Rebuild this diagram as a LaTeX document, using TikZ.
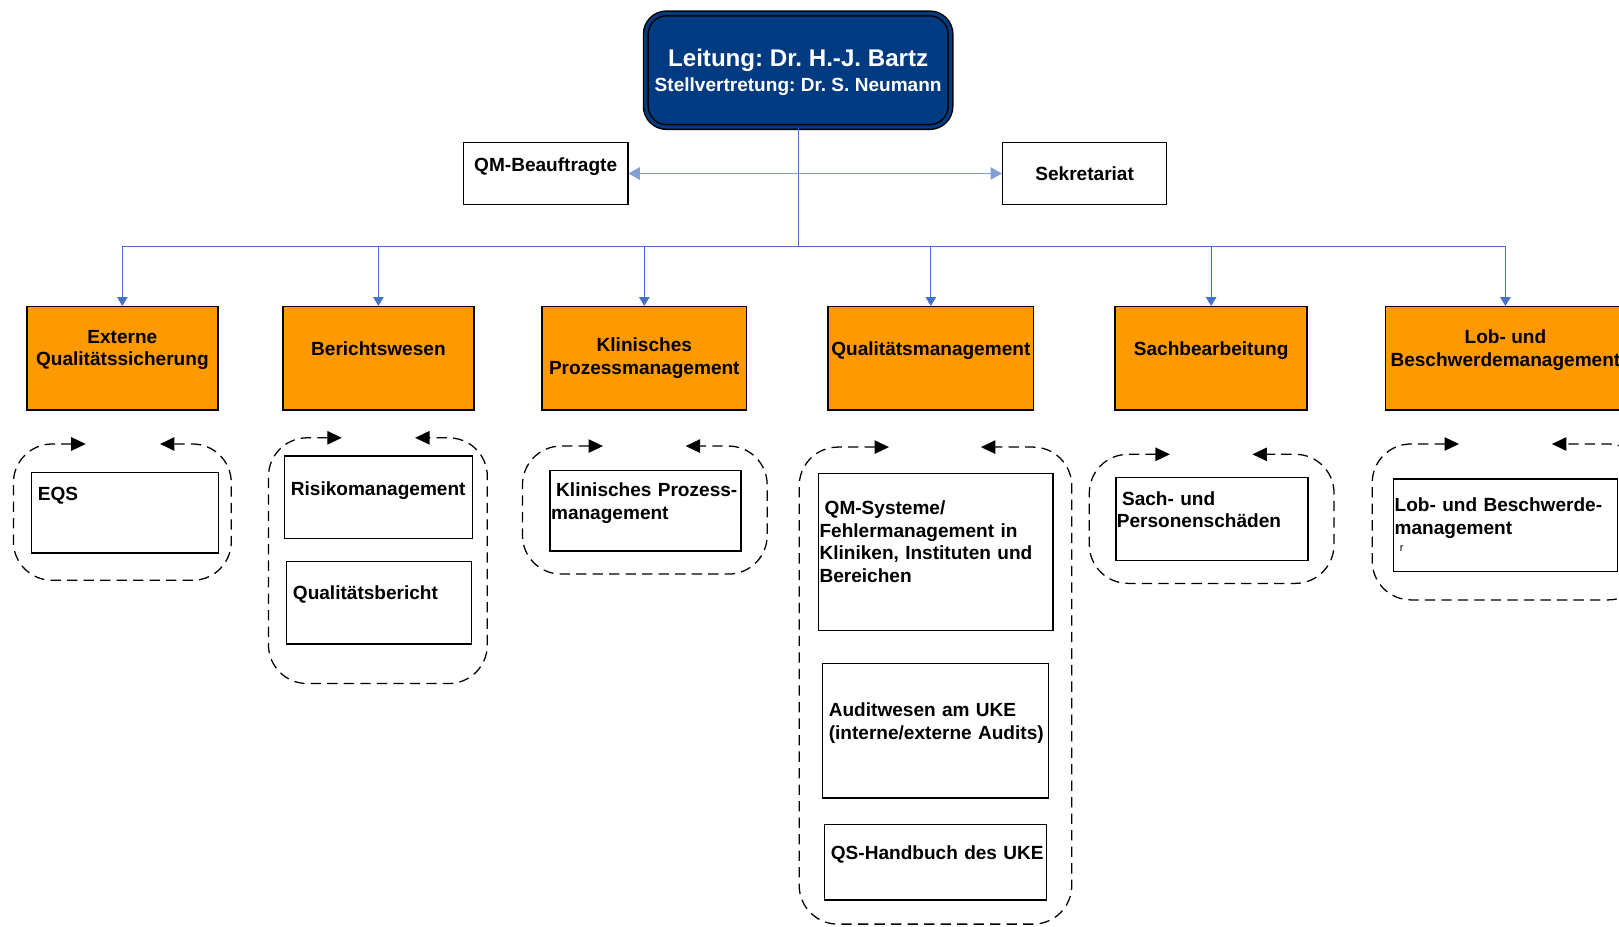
\documentclass[tikz,border=0pt]{standalone}
\usepackage{fontspec}
\setmainfont{Liberation Sans}
\usetikzlibrary{arrows.meta}
\frenchspacing

\definecolor{kopfblau}{RGB}{0,58,128}
\definecolor{abtorange}{RGB}{255,153,0}
\definecolor{busblau}{RGB}{68,114,196}
\definecolor{stabblau}{RGB}{127,159,214}

\newcommand{\schrift}{\bfseries\fontsize{10.5}{12.5}\selectfont}

\tikzset{
  kopf/.style={draw=black, line width=0.8pt, double=kopfblau, double distance=1.8pt, fill=kopfblau, rounded corners=0.4cm, text=white, align=center, minimum width=5.9cm, minimum height=2.2cm, font=\bfseries\fontsize{13.3}{14.5}\selectfont},
  stab/.style={draw, line width=0.8pt, minimum width=3.18cm, minimum height=1.2cm, font=\schrift},
  abteilung/.style={draw, line width=0.8pt, fill=abtorange, align=center, minimum height=2cm, inner xsep=0.04cm, font=\schrift},
  bereich/.style={draw, line width=0.8pt, anchor=north west, align=left, inner xsep=0.02cm, inner ysep=0pt, font=\schrift},
  bus/.style={draw=busblau, line width=0.6pt},
  buspfeil/.style={bus, -{Triangle[length=0.17cm,width=0.2cm]}},
  stabpfeil/.style={draw=stabblau, line width=0.9pt, {Triangle[length=0.22cm,width=0.24cm]}-{Triangle[length=0.22cm,width=0.24cm]}},
  kreislauf/.style={draw, line width=0.7pt, dash pattern=on 0.2cm off 0.12cm, rounded corners=0.75cm, {Triangle[length=0.28cm,width=0.26cm]}-{Triangle[length=0.28cm,width=0.26cm]}},
}

\begin{document}
\begin{tikzpicture}[x=0.2mm,y=-0.2mm]
\useasboundingbox (0,0) rectangle (1568,897);

\node[kopf, text depth=0cm] (leitung) at (773,68) {Leitung: Dr. H.-J. Bartz\\[-0.8pt]{\fontsize{10.5}{12.5}\selectfont Stellvertretung: Dr. S. Neumann}};
\node[stab, text depth=0.36cm] (qmb) at (528.5,168) {QM-Beauftragte};
\node[stab] (sekr) at (1050.5,168) {Sekretariat};

\node[abteilung, minimum width=3.7cm, text depth=0.4cm] (ext) at (118.5,347) {Externe\\Qualitätssicherung};
\node[abteilung, minimum width=3.7cm, text depth=0.36cm] (ber) at (366.5,347) {Berichtswesen};
\node[abteilung, minimum width=3.96cm] (kpm) at (624,347) {Klinisches\\Prozessmanagement};
\node[abteilung, minimum width=3.98cm, text depth=0.36cm] (qm) at (901.5,347) {Qualitätsmanagement};
\node[abteilung, minimum width=3.72cm, text depth=0.36cm] (sach) at (1173,347) {Sachbearbeitung};
\node[abteilung, minimum width=4.64cm, text depth=0.4cm] (lob) at (1458,347) {Lob- und\\Beschwerdemanagement};

\node[bereich, text width=3.58cm, text height=0.55cm, text depth=1.01cm] (eqs) at (30,457) {\hspace*{0.1cm}EQS};
\node[bereich, text width=3.60cm, text height=0.77cm, text depth=0.83cm] (risiko) at (275,441) {\hspace*{0.1cm}Risikomanagement};
\node[bereich, text width=3.54cm, text height=0.73cm, text depth=0.87cm] (qber) at (277,543) {\hspace*{0.1cm}Qualitätsbericht};
\node[bereich, text width=3.66cm, text height=0.51cm, text depth=1.05cm] (kpmsub) at (532,455) {\hspace*{0.1cm}Klinisches Prozess-\\management};
\node[bereich, text width=4.50cm, text height=0.79cm, text depth=2.25cm] (qmsys) at (792,458) {\hspace*{0.1cm}QM-Systeme/\\Fehlermanagement in\\Kliniken, Instituten und\\Bereichen};
\node[bereich, text width=4.34cm, text height=1.03cm, text depth=1.57cm] (audit) at (796,642) {\hspace*{0.1cm}Auditwesen am UKE\\\hspace*{0.1cm}(interne/externe Audits)};
\node[bereich, text width=4.26cm, text height=0.67cm, text depth=0.79cm] (qshb) at (798,798) {\hspace*{0.1cm}QS-Handbuch des UKE};
\node[bereich, text width=3.68cm, text height=0.53cm, text depth=1.07cm] (sachsub) at (1080,462) {\hspace*{0.1cm}Sach- und\\Personenschäden};
\node[bereich, text width=4.30cm, text height=0.63cm, text depth=1.17cm] (lobsub) at (1349,463) {Lob- und Beschwerde-\\management\\[-2.8pt]\hspace*{0.1cm}{\mdseries\fontsize{6}{7}\selectfont r}};

\coordinate (hub) at (773,239);
\draw[bus] (leitung.south) -- (hub);
\draw[stabpfeil] (qmb.east) -- (sekr.west);
\draw[buspfeil] (hub) -| (ext.north);
\draw[buspfeil] (hub) -| (ber.north);
\draw[buspfeil] (hub) -| (kpm.north);
\draw[buspfeil] (hub) -| (qm.north);
\draw[buspfeil] (hub) -| (sach.north);
\draw[buspfeil] (hub) -| (lob.north);

\draw[kreislauf] (83,430) -- (13,430) -- (13,562) -- (224,562) -- (224,430) -- (155,430);
\draw[kreislauf] (331,424) -- (260,424) -- (260,662) -- (472,662) -- (472,424) -- (402,424);
\draw[kreislauf] (584,432) -- (506,432) -- (506,556) -- (743,556) -- (743,432) -- (664,432);
\draw[kreislauf] (861,433) -- (774,433) -- (774,895) -- (1038,895) -- (1038,433) -- (950,433);
\draw[kreislauf] (1133,440) -- (1055,440) -- (1055,565) -- (1292,565) -- (1292,440) -- (1213,440);
\draw[kreislauf] (1413,430) -- (1329,430) -- (1329,581) -- (1595,581) -- (1595,430) -- (1503,430);
\end{tikzpicture}
\end{document}
